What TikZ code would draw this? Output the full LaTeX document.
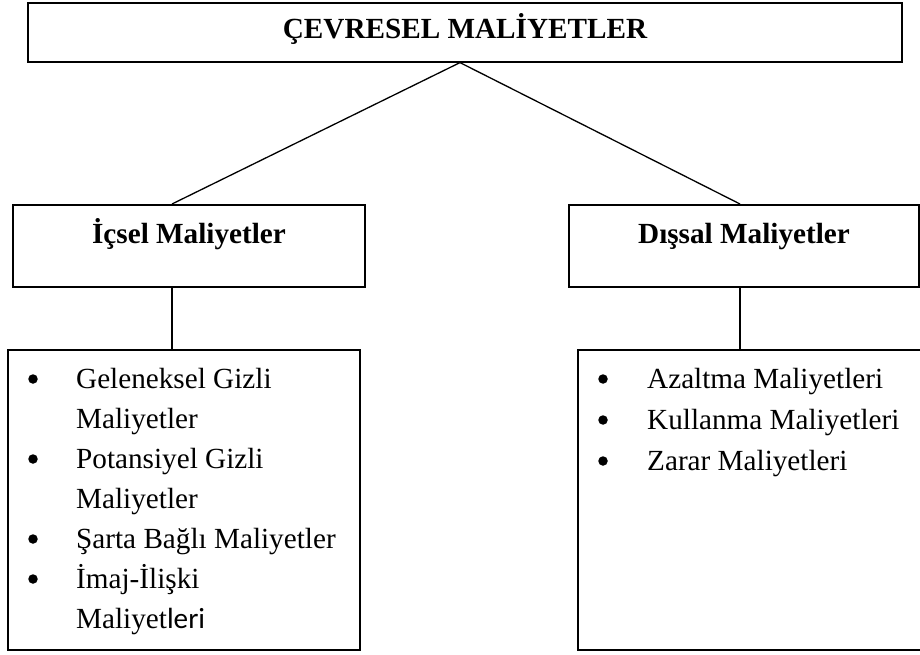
\documentclass[tikz,border=0pt]{standalone}
\usepackage{fontspec}
\setmainfont{Liberation Serif}
\newfontfamily\carlito{Carlito}
\usetikzlibrary{positioning}

\tikzset{
	kutu/.style={draw,line width=1.6pt,inner xsep=0pt,inner ysep=0pt,font=\bfseries},
	liste/.style={draw,line width=1.6pt,inner sep=0pt,anchor=north west},
	madde/.style={anchor=base west,inner sep=0pt},
	nokta/.style={circle,fill=black,inner sep=0pt,minimum size=9.5pt},
	bag/.style={line width=1.3pt}
}

\begin{document}
\begin{tikzpicture}[x=1pt,y=-1pt]
		\fontsize{29.2}{40}\selectfont
		\useasboundingbox (0,0) rectangle (920,655);

		%kutular (x ve y piksel olarak)
		\node (cevre) at(465,2) [kutu,anchor=north,minimum width=874pt,text height=36pt,text depth=23pt] {ÇEVRESEL MALİYETLER} ;
		\node (icsel) at(189,204) [kutu,anchor=north,minimum width=352pt,text height=39pt,text depth=43pt] {İçsel Maliyetler} ;
		\node (dissal) at(744,204) [kutu,anchor=north,minimum width=350pt,text height=39pt,text depth=43pt] {Dışsal Maliyetler} ;
		\node (icsel liste) at(7,349) [liste,minimum width=352pt,minimum height=300pt] {} ;
		\node (dissal liste) at(577,349) [liste,minimum width=345pt,minimum height=300pt] {} ;

		%baglanti noktalari
		\coordinate (catal) at(460,0) ;
		\coordinate (icsel bag) at(172,0) ;
		\coordinate (dissal bag) at(740,0) ;

		\path[bag]
		(cevre.south -| catal) edge (icsel.north -| icsel bag)
		(cevre.south -| catal) edge (dissal.north -| dissal bag)
		(icsel.south -| icsel bag) edge (icsel liste.north -| icsel bag)
		(dissal.south -| dissal bag) edge (dissal liste.north -| dissal bag)
		;

		%icsel maliyetler listesi
		\node (n1) at(33,379) [nokta] {} ;
		\node (n2) at(33,459) [nokta] {} ;
		\node (n3) at(33,539) [nokta] {} ;
		\node (n4) at(33,579) [nokta] {} ;
		\node (m1) at(76,388) [madde] {Geleneksel Gizli} ;
		\node (m1b) at(76,428) [madde] {Maliyetler} ;
		\node (m2) at(76,468) [madde] {Potansiyel Gizli} ;
		\node (m2b) at(76,508) [madde] {Maliyetler} ;
		\node (m3) at(76,548) [madde] {Şarta Bağlı Maliyetler} ;
		\node (m4) at(76,588) [madde] {İmaj-İlişki} ;
		\node (m4b) at(76,628) [madde] {Maliyet{\carlito leri}} ;

		%dissal maliyetler listesi
		\node (n5) at(603,379) [nokta] {} ;
		\node (n6) at(603,420) [nokta] {} ;
		\node (n7) at(603,461) [nokta] {} ;
		\node (m5) at(647,388) [madde] {Azaltma Maliyetleri} ;
		\node (m6) at(647,429) [madde] {Kullanma Maliyetleri} ;
		\node (m7) at(647,470) [madde] {Zarar Maliyetleri} ;
\end{tikzpicture}
\end{document}
